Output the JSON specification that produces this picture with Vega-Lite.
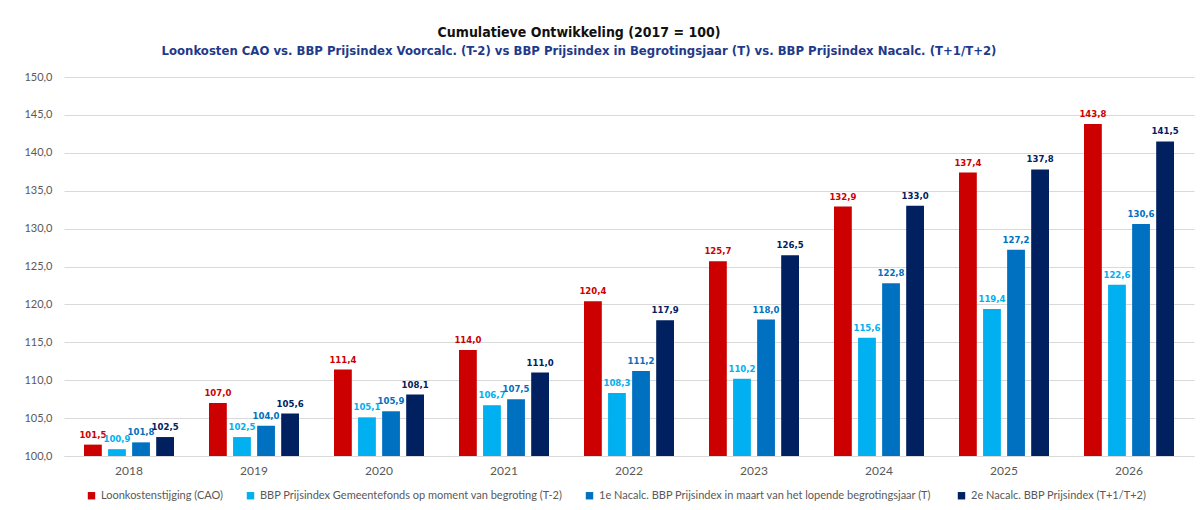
{
  "$schema": "https://vega.github.io/schema/vega-lite/v6.json",
  "width": 1130,
  "height": 379,
  "autosize": {"type": "pad"},
  "padding": {"left": 23, "top": 26, "right": 8, "bottom": 5},
  "background": "white",
  "config": {
    "locale": {"number": {"decimal": ",", "thousands": ".", "grouping": [3], "currency": ["€ ", ""]}},
    "view": {"stroke": null},
    "font": "Lato"
  },
  "title": {
    "text": "Cumulatieve Ontwikkeling (2017 = 100)",
    "subtitle": "Loonkosten CAO vs. BBP Prijsindex Voorcalc. (T-2) vs BBP Prijsindex in Begrotingsjaar (T) vs. BBP Prijsindex Nacalc. (T+1/T+2)",
    "font": "'Liberation Sans Narrow', 'DejaVu Sans Condensed', sans-serif",
    "fontSize": 14,
    "fontWeight": "bold",
    "color": "#111111",
    "subtitleFont": "'Liberation Sans Narrow', 'DejaVu Sans Condensed', sans-serif",
    "subtitleFontSize": 13,
    "subtitleFontWeight": "bold",
    "subtitleColor": "#1f3a8a",
    "subtitlePadding": 5,
    "anchor": "middle",
    "dx": -50,
    "offset": 13
  },
  "data": {
    "values": [
      {"jaar": "2018", "reeks": "Loonkostenstijging (CAO)", "waarde": 101.5},
      {"jaar": "2018", "reeks": "BBP Prijsindex Gemeentefonds op moment van begroting (T-2)", "waarde": 100.9},
      {"jaar": "2018", "reeks": "1e  Nacalc. BBP Prijsindex in maart van het lopende begrotingsjaar (T)", "waarde": 101.8},
      {"jaar": "2018", "reeks": "2e Nacalc. BBP Prijsindex (T+1/T+2)", "waarde": 102.5},
      {"jaar": "2019", "reeks": "Loonkostenstijging (CAO)", "waarde": 107.0},
      {"jaar": "2019", "reeks": "BBP Prijsindex Gemeentefonds op moment van begroting (T-2)", "waarde": 102.5},
      {"jaar": "2019", "reeks": "1e  Nacalc. BBP Prijsindex in maart van het lopende begrotingsjaar (T)", "waarde": 104.0},
      {"jaar": "2019", "reeks": "2e Nacalc. BBP Prijsindex (T+1/T+2)", "waarde": 105.6},
      {"jaar": "2020", "reeks": "Loonkostenstijging (CAO)", "waarde": 111.4},
      {"jaar": "2020", "reeks": "BBP Prijsindex Gemeentefonds op moment van begroting (T-2)", "waarde": 105.1},
      {"jaar": "2020", "reeks": "1e  Nacalc. BBP Prijsindex in maart van het lopende begrotingsjaar (T)", "waarde": 105.9},
      {"jaar": "2020", "reeks": "2e Nacalc. BBP Prijsindex (T+1/T+2)", "waarde": 108.1},
      {"jaar": "2021", "reeks": "Loonkostenstijging (CAO)", "waarde": 114.0},
      {"jaar": "2021", "reeks": "BBP Prijsindex Gemeentefonds op moment van begroting (T-2)", "waarde": 106.7},
      {"jaar": "2021", "reeks": "1e  Nacalc. BBP Prijsindex in maart van het lopende begrotingsjaar (T)", "waarde": 107.5},
      {"jaar": "2021", "reeks": "2e Nacalc. BBP Prijsindex (T+1/T+2)", "waarde": 111.0},
      {"jaar": "2022", "reeks": "Loonkostenstijging (CAO)", "waarde": 120.4},
      {"jaar": "2022", "reeks": "BBP Prijsindex Gemeentefonds op moment van begroting (T-2)", "waarde": 108.3},
      {"jaar": "2022", "reeks": "1e  Nacalc. BBP Prijsindex in maart van het lopende begrotingsjaar (T)", "waarde": 111.2},
      {"jaar": "2022", "reeks": "2e Nacalc. BBP Prijsindex (T+1/T+2)", "waarde": 117.9},
      {"jaar": "2023", "reeks": "Loonkostenstijging (CAO)", "waarde": 125.7},
      {"jaar": "2023", "reeks": "BBP Prijsindex Gemeentefonds op moment van begroting (T-2)", "waarde": 110.2},
      {"jaar": "2023", "reeks": "1e  Nacalc. BBP Prijsindex in maart van het lopende begrotingsjaar (T)", "waarde": 118.0},
      {"jaar": "2023", "reeks": "2e Nacalc. BBP Prijsindex (T+1/T+2)", "waarde": 126.5},
      {"jaar": "2024", "reeks": "Loonkostenstijging (CAO)", "waarde": 132.9},
      {"jaar": "2024", "reeks": "BBP Prijsindex Gemeentefonds op moment van begroting (T-2)", "waarde": 115.6},
      {"jaar": "2024", "reeks": "1e  Nacalc. BBP Prijsindex in maart van het lopende begrotingsjaar (T)", "waarde": 122.8},
      {"jaar": "2024", "reeks": "2e Nacalc. BBP Prijsindex (T+1/T+2)", "waarde": 133.0},
      {"jaar": "2025", "reeks": "Loonkostenstijging (CAO)", "waarde": 137.4},
      {"jaar": "2025", "reeks": "BBP Prijsindex Gemeentefonds op moment van begroting (T-2)", "waarde": 119.4},
      {"jaar": "2025", "reeks": "1e  Nacalc. BBP Prijsindex in maart van het lopende begrotingsjaar (T)", "waarde": 127.2},
      {"jaar": "2025", "reeks": "2e Nacalc. BBP Prijsindex (T+1/T+2)", "waarde": 137.8},
      {"jaar": "2026", "reeks": "Loonkostenstijging (CAO)", "waarde": 143.8},
      {"jaar": "2026", "reeks": "BBP Prijsindex Gemeentefonds op moment van begroting (T-2)", "waarde": 122.6},
      {"jaar": "2026", "reeks": "1e  Nacalc. BBP Prijsindex in maart van het lopende begrotingsjaar (T)", "waarde": 130.6},
      {"jaar": "2026", "reeks": "2e Nacalc. BBP Prijsindex (T+1/T+2)", "waarde": 141.5}
    ]
  },
  "encoding": {
    "x": {
      "field": "jaar", "type": "nominal",
      "scale": {"paddingInner": 0.28, "paddingOuter": 0.16},
      "axis": {"title": null, "labelAngle": 0, "ticks": false, "domainColor": "#d9d9d9", "labelColor": "#595959", "labelFontSize": 12, "labelPadding": 9, "grid": false}
    },
    "xOffset": {
      "field": "reeks", "type": "nominal",
      "sort": ["Loonkostenstijging (CAO)", "BBP Prijsindex Gemeentefonds op moment van begroting (T-2)", "1e  Nacalc. BBP Prijsindex in maart van het lopende begrotingsjaar (T)", "2e Nacalc. BBP Prijsindex (T+1/T+2)"],
      "scale": {"paddingInner": 0.26, "paddingOuter": 0}
    },
    "y": {
      "field": "waarde", "type": "quantitative",
      "scale": {"domain": [100, 150], "zero": false, "nice": false},
      "axis": {"title": null, "format": ".1f", "values": [100, 105, 110, 115, 120, 125, 130, 135, 140, 145, 150], "labelOverlap": false, "ticks": false, "domain": false, "gridColor": "#d9d9d9", "labelColor": "#595959", "labelFontSize": 11, "labelPadding": 12}
    },
    "color": {
      "field": "reeks", "type": "nominal",
      "sort": ["Loonkostenstijging (CAO)", "BBP Prijsindex Gemeentefonds op moment van begroting (T-2)", "1e  Nacalc. BBP Prijsindex in maart van het lopende begrotingsjaar (T)", "2e Nacalc. BBP Prijsindex (T+1/T+2)"],
      "scale": {"domain": ["Loonkostenstijging (CAO)", "BBP Prijsindex Gemeentefonds op moment van begroting (T-2)", "1e  Nacalc. BBP Prijsindex in maart van het lopende begrotingsjaar (T)", "2e Nacalc. BBP Prijsindex (T+1/T+2)"], "range": ["#cc0000", "#00b0f0", "#0070c0", "#002060"]},
      "legend": {"title": null, "orient": "none", "legendX": 22, "legendY": 413, "direction": "horizontal", "symbolType": "square", "symbolSize": 55, "symbolStrokeWidth": 0, "labelFontSize": 11, "labelColor": "#595959", "columnPadding": 21, "labelLimit": 500}
    }
  },
  "layer": [
    {
      "mark": {"type": "bar"},
      "encoding": {"y2": {"datum": 100}}
    },
    {
      "mark": {"type": "text", "dy": -10, "fontWeight": "bold", "fontSize": 9.5, "font": "'Liberation Sans Narrow', 'DejaVu Sans Condensed', sans-serif"},
      "encoding": {"text": {"field": "waarde", "type": "quantitative", "format": ".1f"}}
    }
  ]
}
